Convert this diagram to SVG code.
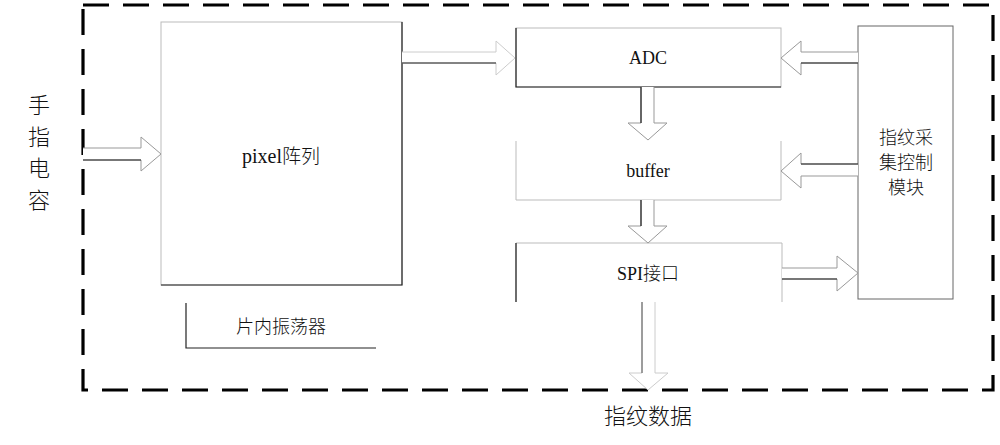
<svg xmlns="http://www.w3.org/2000/svg" width="1000" height="445" viewBox="0 0 1000 445">
<style>
.dk{stroke:#222;stroke-width:1.2;fill:none}
.lt{stroke:#bbb;stroke-width:1;fill:none}
.ar{fill:#fff;stroke:#999;stroke-width:1}
.lat{font-family:"Liberation Serif","Noto Sans CJK SC",serif;fill:#111;text-anchor:middle}
.cjk{font-family:"Noto Sans CJK SC","Liberation Serif",sans-serif;fill:#111;text-anchor:middle;font-weight:300}
</style>
<rect width="1000" height="445" fill="#fff"/>
<rect id="boundary" x="83" y="5" width="910" height="385" fill="none" stroke="#000" stroke-width="3.2" stroke-dasharray="26 14" stroke-linecap="butt"/>
<g id="finger-label">
<text class="cjk" x="39" y="113" font-size="22">手</text>
<text class="cjk" x="39" y="145" font-size="22">指</text>
<text class="cjk" x="39" y="176" font-size="22">电</text>
<text class="cjk" x="39" y="208" font-size="22">容</text>
</g>
<g id="pixel">
<rect x="161" y="22" width="241" height="263" class="lt"/>
<path d="M402 22 V285 H161" class="dk"/>
<text class="lat" x="281" y="163" font-size="20">pixel<tspan class="cjk" font-size="19">阵列</tspan></text>
</g>
<g id="adc">
<rect x="516" y="28" width="265" height="59" class="lt"/>
<path d="M516 28 V87 H781" class="dk"/>
<text class="lat" x="648" y="64" font-size="18">ADC</text>
</g>
<g id="buffer">
<path d="M516 141 V200 H781 V141" class="lt"/>
<text class="lat" x="648" y="177" font-size="18">buffer</text>
</g>
<g id="spi">
<path d="M516 302 V243 H782 V302" class="lt"/>
<path d="M516 243 V302" class="dk" stroke-width="0.8"/>
<text class="lat" x="648" y="280" font-size="18">SPI<tspan class="cjk" font-size="18">接口</tspan></text>
</g>
<g id="control">
<rect x="858" y="26" width="95" height="273" fill="none" stroke="#666" stroke-width="1"/>
<text class="cjk" x="906" y="144" font-size="18">指纹采</text>
<text class="cjk" x="906" y="169" font-size="18">集控制</text>
<text class="cjk" x="906" y="194" font-size="18">模块</text>
</g>
<g id="oscillator">
<path d="M186 303 V348 H376" class="dk"/>
<text class="cjk" x="281" y="333" font-size="18">片内振荡器</text>
</g>
<g id="data-label">
<text class="cjk" x="648" y="424" font-size="22">指纹数据</text>
</g>
<g id="connectors">
<!-- finger -> pixel -->
<path d="M83 148 H141 V137 L161 154 L141 171 V160 H83" class="ar"/>
<path d="M83 160 H141" class="dk"/>
<!-- pixel -> ADC -->
<path d="M402 52 H496 V41 L515 58 L496 75 V63 H402" fill="#fff" stroke="#ccc" stroke-width="1"/>
<path d="M402 63 H496" class="dk"/>
<!-- ADC -> buffer -->
<path d="M641 87 V123 H628 L648 140 L667 123 H654 V87" class="ar"/>
<path d="M641 87 V123" class="dk"/>
<!-- buffer -> SPI -->
<path d="M641 200 V226 H628 L648 243 L667 226 H654 V200" class="ar"/>
<path d="M641 200 V226" class="dk"/>
<!-- SPI -> out -->
<path d="M642 302 V373 H629 L648 390 L668 373 H655 V302" fill="#fff" stroke="#ccc" stroke-width="1"/>
<path d="M642 302 V373" stroke="#555" stroke-width="1" fill="none"/>
<!-- SPI -> control -->
<path d="M782 268 H837 V256 L858 273 L837 291 V279 H782" class="ar"/>
<path d="M782 279 H837" class="dk"/>
<!-- control -> ADC -->
<path d="M858 52 H801 V41 L781 58 L801 75 V63 H858" class="ar"/>
<path d="M858 63 H801" class="dk"/>
<!-- control -> buffer -->
<path d="M858 164 H801 V153 L781 171 L801 188 V176 H858" class="ar"/>
<path d="M858 164 H801" class="dk"/>
</g>
</svg>
